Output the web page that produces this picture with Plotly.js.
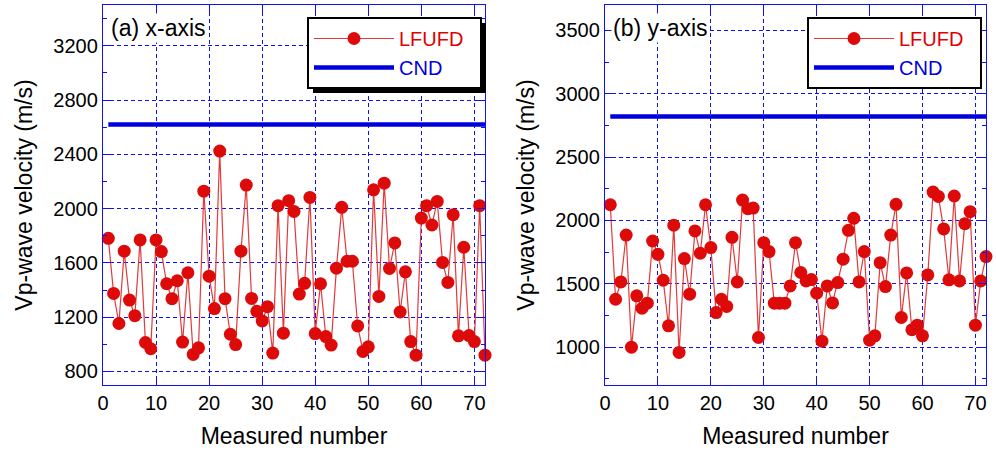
<!DOCTYPE html>
<html><head><meta charset="utf-8">
<script src="https://cdn.plot.ly/plotly-3.0.1.min.js"></script>
<style>html,body{margin:0;padding:0;background:#fff}#chart{width:996px;height:455px}</style>
</head><body><div id="chart"></div>
<script>
// Measured number (x) for both panels
const measuredNumber = [1,2,3,4,5,6,7,8,9,10,11,12,13,14,15,16,17,18,19,20,21,22,23,24,25,26,27,28,29,30,31,32,33,34,35,36,37,38,39,40,41,42,43,44,45,46,47,48,49,50,51,52,53,54,55,56,57,58,59,60,61,62,63,64,65,66,67,68,69,70,71,72];

// (a) x-axis, LFUFD Vp-wave velocity (m/s)
const lfufdX = [1781,1375,1153,1686,1326,1211,1769,1013,967,1769,1683,1446,1336,1468,1016,1527,925,974,2128,1502,
  1263,2424,1336,1074,998,1686,2173,1338,1243,1172,1277,935,2021,1082,2058,1979,1370,1449,2082,1079,
  1446,1057,994,1561,2009,1612,1612,1135,947,981,2138,1353,2187,1559,1747,1238,1534,1020,920,1930,
  2021,1879,2053,1603,1456,1955,1062,1715,1064,1020,2021,920];
// (b) y-axis, LFUFD Vp-wave velocity (m/s)
const lfufdY = [2123,1377,1514,1884,999,1404,1306,1346,1837,1732,1527,1167,1961,957,1698,1417,1916,1740,2123,1785,
  1272,1377,1320,1866,1514,2160,2092,2097,1075,1824,1753,1346,1346,1346,1482,1824,1588,1522,1532,1425,
  1046,1482,1348,1509,1693,1921,2016,1514,1753,1054,1088,1666,1477,1884,2126,1233,1585,1136,1172,1088,
  1569,2223,2189,1932,1530,2192,1522,1974,2068,1172,1522,1714];

// CND reference values
const cndXRange = [1, 72];
const cndX = [2620, 2620];
const cndY = [2820, 2820];

const FONT = 'Arial, "Liberation Sans", sans-serif';
const BLUE = '#1010f0';
const RED = '#dd0a0a';
const PAD = '\u00A0\u00A0';

function lfufdTrace(y, xa, ya, lg){
  return {x: measuredNumber, y: y, xaxis: xa, yaxis: ya, legend: lg, type: 'scatter', mode: 'lines+markers',
    name: '<span style="color:#e00000">LFUFD</span>' + PAD, cliponaxis: false,
    line: {color: '#e23a3a', width: 1.2}, marker: {color: RED, size: 13}};
}
function cndTrace(y, xa, ya, lg){
  return {x: cndXRange, y: y, xaxis: xa, yaxis: ya, legend: lg, type: 'scatter', mode: 'lines',
    name: '<span style="color:#0000dd">CND</span>',
    line: {color: '#0000dd', width: 4.5}};
}

const data = [
  lfufdTrace(lfufdX, 'x', 'y', 'legend'),
  cndTrace(cndX, 'x', 'y', 'legend'),
  lfufdTrace(lfufdY, 'x2', 'y2', 'legend2'),
  cndTrace(cndY, 'x2', 'y2', 'legend2')
];

function xax(domain, anchor){
  return {domain: domain, anchor: anchor, range: [0, 72], tick0: 0, dtick: 10,
    showgrid: true, gridcolor: BLUE, griddash: '4px,3px', gridwidth: 1,
    showline: true, linecolor: BLUE, linewidth: 1.2, mirror: 'ticks',
    ticks: 'inside', ticklen: 8, tickcolor: BLUE, zeroline: false,
    tickfont: {family: FONT, size: 20, color: '#000'},
    title: {text: 'Measured number', font: {family: FONT, size: 23, color: '#000'}, standoff: 14}};
}
function yax(domain, anchor, range, tick0, dtick){
  return {domain: domain, anchor: anchor, range: range, tick0: tick0, dtick: dtick,
    showgrid: true, gridcolor: BLUE, griddash: '4px,3px', gridwidth: 1,
    showline: true, linecolor: BLUE, linewidth: 1.2, mirror: 'ticks',
    ticks: 'inside', ticklen: 8, tickcolor: BLUE, zeroline: false,
    minor: {ticks: 'inside', ticklen: 4, dtick: dtick/2, tick0: tick0, tickcolor: BLUE, showgrid: false},
    tickfont: {family: FONT, size: 20, color: '#000'},
    title: {text: 'Vp-wave velocity (m/s)', font: {family: FONT, size: 23, color: '#000'}, standoff: 14}};
}

const yDom = [1 - 385/455, 1 - 5/455];
const legendBase = {yanchor: 'top', xanchor: 'left', bgcolor: '#fff', bordercolor: '#000', borderwidth: 2,
  font: {family: FONT, size: 20}, tracegroupgap: 0, itemwidth: 80};

const layout = {
  width: 996, height: 455, margin: {l: 0, r: 0, t: 0, b: 0},
  paper_bgcolor: '#fff', plot_bgcolor: '#fff', showlegend: true,
  font: {family: FONT},
  xaxis: xax([103/996, 485/996], 'y'),
  yaxis: yax(yDom, 'x', [700, 3500], 800, 400),
  xaxis2: xax([605/996, 986/996], 'y2'),
  yaxis2: yax(yDom, 'x2', [700, 3700], 1000, 500),
  legend: Object.assign({x: 307/996, y: 1 - 17/455}, legendBase),
  legend2: Object.assign({x: 807/996, y: 1 - 17/455}, legendBase),
  annotations: [
    {text: '(a) x-axis', xref: 'paper', yref: 'paper', x: 109/996, y: 1 - 13/455, xanchor: 'left', yanchor: 'top',
     showarrow: false, bgcolor: '#fff', font: {family: FONT, size: 23, color: '#000'}},
    {text: '(b) y-axis', xref: 'paper', yref: 'paper', x: 611/996, y: 1 - 13/455, xanchor: 'left', yanchor: 'top',
     showarrow: false, bgcolor: '#fff', font: {family: FONT, size: 23, color: '#000'}}
  ],
  shapes: []
};

Plotly.newPlot('chart', data, layout, {displayModeBar: false, staticPlot: true}).then(gd => {
  // drop shadow behind each legend box, sized from the rendered legend
  const shapes = [];
  document.querySelectorAll('.legend .bg').forEach(bg => {
    const r = bg.getBoundingClientRect();
    const off = 5;
    shapes.push({type: 'rect', xref: 'paper', yref: 'paper',
      x0: (r.left + off) / 996, x1: (r.right + off) / 996,
      y0: 1 - (r.bottom + off) / 455, y1: 1 - (r.top + off) / 455,
      fillcolor: '#000', line: {width: 0}, layer: 'above'});
  });
  return Plotly.relayout(gd, {shapes: shapes});
});
</script></body></html>
